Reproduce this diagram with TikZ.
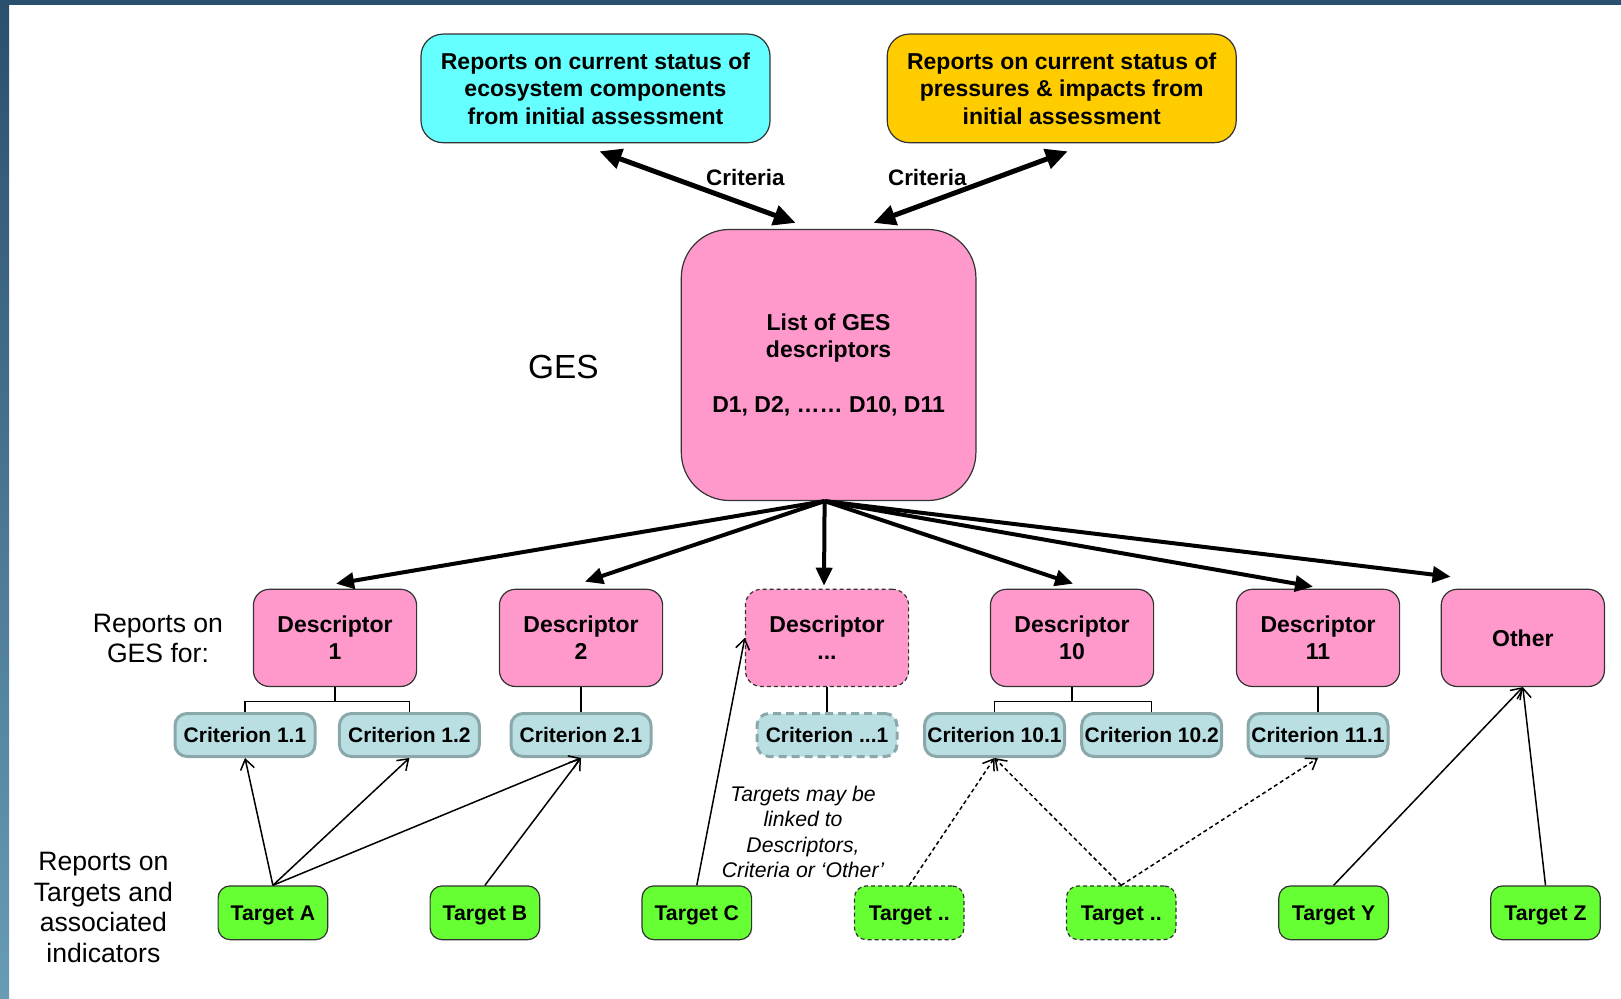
\documentclass[tikz,border=0pt]{standalone}
\usepackage{fontspec}
\setmainfont{Liberation Sans}
\usepackage{tikz}
\usetikzlibrary{arrows.meta}
\definecolor{statuscyan}{RGB}{102, 255, 255}
\definecolor{statusamber}{RGB}{255, 204, 0}
\definecolor{gespink}{RGB}{255, 153, 204}
\definecolor{critfill}{RGB}{185, 223, 226}
\definecolor{critedge}{RGB}{138, 168, 170}
\definecolor{targetgreen}{RGB}{102, 255, 51}
\definecolor{edgegray}{RGB}{51, 51, 51}
\definecolor{slidenavy}{RGB}{43, 79, 110}
\definecolor{slidesteel}{RGB}{104, 156, 180}

\begin{document}
\begin{tikzpicture}[
        x=0.5pt, y=-0.5pt,
        report/.style={rectangle, draw=edgegray, semithick, rounded corners=11pt, minimum width=174.5pt, minimum height=54.3pt, inner sep=1pt, align=center, font=\bfseries\fontsize{11.5}{13.7}\selectfont},
        hub/.style={rectangle, draw=edgegray, semithick, fill=gespink, rounded corners=24pt, minimum width=147.3pt, minimum height=135.5pt, align=center, font=\bfseries\fontsize{11.5}{13.7}\selectfont},
        descriptor/.style={rectangle, draw=edgegray, semithick, fill=gespink, rounded corners=8pt, minimum width=81.6pt, minimum height=48.6pt, inner sep=1pt, align=center, font=\bfseries\fontsize{11.5}{13.5}\selectfont},
        criterion/.style={rectangle, draw=critedge, line width=1.5pt, fill=critfill, rounded corners=6pt, minimum width=70pt, minimum height=21.5pt, inner sep=1pt, font=\bfseries\fontsize{10.5}{12.6}\selectfont},
        target/.style={rectangle, draw=edgegray, semithick, fill=targetgreen, rounded corners=6pt, minimum width=54.8pt, minimum height=26.9pt, inner sep=1pt, text depth=0pt, font=\bfseries\fontsize{10.6}{12.7}\selectfont},
        sidelabel/.style={align=center, font=\fontsize{13.3}{15.3}\selectfont},
        note/.style={align=center, font=\itshape\fontsize{10.6}{12.7}\selectfont},
        twoway/.style={line width=2.5pt, {Triangle[length=11pt,width=10pt]}-{Triangle[length=11pt,width=10pt]}},
        spoke/.style={line width=2pt, -{Triangle[length=9pt,width=8pt]}},
        link/.style={line width=0.75pt, -{Straight Barb[length=5pt,width=7pt]}},
        maybe/.style={link, dash pattern=on 2pt off 1.5pt},
        tie/.style={line width=0.6pt}
    ]
        \useasboundingbox (0,0) rectangle (1621,999);
        \fill[white] (0,0) rectangle (1621,999);
        \fill[slidenavy] (0,0) rectangle (1621,5);
        \shade[top color=slidenavy, bottom color=slidesteel] (0,0) rectangle (9,999);

        \node[report, fill=statuscyan] (eco) at (595.5,88.4) {Reports on current status of\\ecosystem components\\from initial assessment};
        \node[report, fill=statusamber] (press) at (1061.7,88.4) {Reports on current status of\\pressures \& impacts from\\initial assessment};
        \node[hub] (list) at (828.6,365) {List of GES\\descriptors\\[13.7pt]D1, D2, …… D10, D11};
        \node[sidelabel, font=\fontsize{16.7}{20}\selectfont] (geslabel) at (563.4,367) {GES};
        \node[font=\bfseries\fontsize{11.2}{13.4}\selectfont] (critleft) at (745.4,177.8) {Criteria};
        \node[font=\bfseries\fontsize{11.2}{13.4}\selectfont] (critright) at (927.3,177.8) {Criteria};

        \node[descriptor] (d1) at (335,637.9) {Descriptor\\1};
        \node[descriptor] (d2) at (581,637.9) {Descriptor\\2};
        \node[descriptor, dash pattern=on 2pt off 1.5pt] (dx) at (827,637.9) {Descriptor\\...};
        \node[descriptor] (d10) at (1072,637.9) {Descriptor\\10};
        \node[descriptor] (d11) at (1318,637.9) {Descriptor\\11};
        \node[descriptor] (other) at (1522.8,637.9) {Other};

        \node[criterion] (c11) at (245,735) {Criterion 1.1};
        \node[criterion] (c12) at (409.4,735) {Criterion 1.2};
        \node[criterion] (c21) at (581,735) {Criterion 2.1};
        \node[criterion, dash pattern=on 4pt off 2.5pt] (cx) at (827,735) {Criterion ...1};
        \node[criterion] (c101) at (994.5,735) {Criterion 10.1};
        \node[criterion] (c102) at (1151.7,735) {Criterion 10.2};
        \node[criterion] (c111) at (1318,735) {Criterion 11.1};

        \node[target] (ta) at (272.9,912.8) {Target A};
        \node[target] (tb) at (484.9,912.8) {Target B};
        \node[target] (tc) at (696.8,912.8) {Target C};
        \node[target, dash pattern=on 2pt off 1.5pt] (tx1) at (909.2,912.8) {Target ..};
        \node[target, dash pattern=on 2pt off 1.5pt] (tx2) at (1121.2,912.8) {Target ..};
        \node[target] (ty) at (1333.6,912.8) {Target Y};
        \node[target] (tz) at (1545.5,912.8) {Target Z};

        \node[sidelabel] (gesfor) at (158,638.4) {Reports on\\GES for:};
        \node[sidelabel] (targetsfor) at (103.4,907.5) {Reports on\\Targets and\\associated\\indicators};
        \node[note] (linknote) at (803,831.8) {Targets may be\\linked to\\Descriptors,\\Criteria or ‘Other’};

        \draw[twoway] ([shift={(4,8)}]eco.south) -- ([shift={(-33,-6)}]list.north);
        \draw[twoway] ([shift={(45,-6)}]list.north) -- ([shift={(6,8)}]press.south);

        \coordinate (fan) at ([shift={(-4,0)}]list.south);
        \draw[spoke] (fan) -- ([shift={(1,-5)}]d1.north);
        \draw[spoke] (fan) -- ([shift={(4,-7)}]d2.north);
        \draw[spoke] (fan) -- ([shift={(-3,-3)}]dx.north);
        \draw[spoke] (fan) -- ([shift={(1,-5)}]d10.north);
        \draw[spoke] (fan) -- ([shift={(-5,-2)}]d11.north);
        \draw[spoke] (fan) -- ([shift={(10,-12)}]other.north west);

        \draw[tie] (d1.south) -- ++(0,14) coordinate (j1);
        \draw[tie] (c11.north) |- (j1) -| (c12.north);
        \draw[tie] (d2.south) -- (c21.north);
        \draw[tie] (dx.south) -- (cx.north);
        \draw[tie] (d10.south) -- ++(0,14) coordinate (j10);
        \draw[tie] (c101.north) |- (j10) -| (c102.north);
        \draw[tie] (d11.south) -- (c111.north);

        \draw[link] (ta.north) -- (c11.south);
        \draw[link] (ta.north) -- (c12.south);
        \draw[link] (ta.north) -- (c21.south);
        \draw[link] (tb.north) -- (c21.south);
        \draw[link] (tc.north) -- (dx.west);
        \draw[maybe] (tx1.north) -- (c101.south);
        \draw[maybe] (tx2.north) -- (c101.south);
        \draw[maybe] (tx2.north) -- (c111.south);
        \draw[link] (ty.north) -- (other.south);
        \draw[link] (tz.north) -- (other.south);
    \end{tikzpicture}
\end{document}
